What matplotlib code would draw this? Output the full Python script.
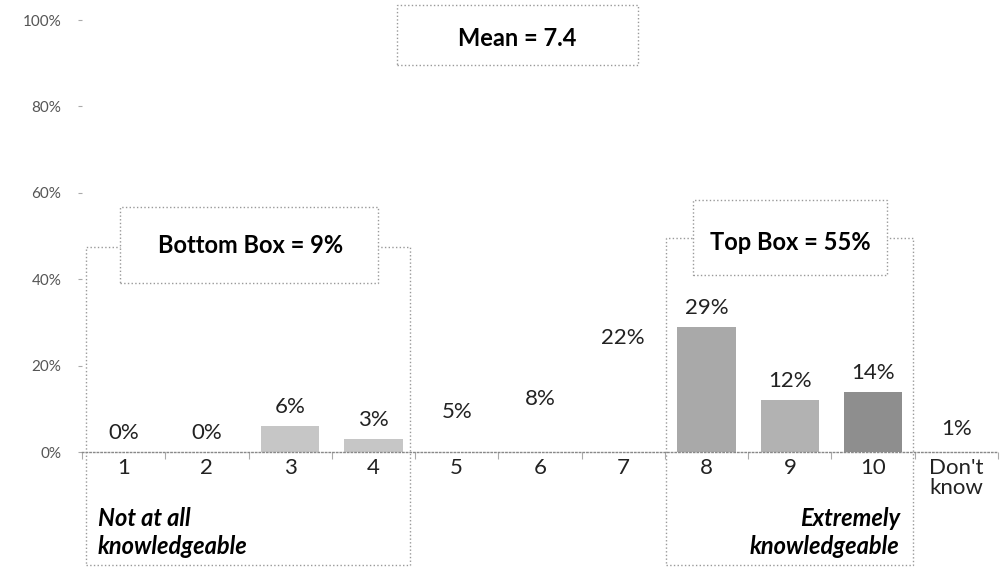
import matplotlib.pyplot as plt
from matplotlib.patches import Rectangle
import numpy as np

categories = ['1', '2', '3', '4', '5', '6', '7', '8', '9', '10', "Don't\nknow"]
values = [0, 0, 6, 3, 5, 8, 22, 29, 12, 14, 1]
bar_colors = ['white', 'white', '#c6c6c6', '#c6c6c6', 'white', 'white', 'white',
              '#a9a9a9', '#b2b2b2', '#8e8e8e', 'white']
mean_text = 'Mean = 7.4'
bottom_text = 'Bottom Box = 9%'
top_text = 'Top Box = 55%'

plt.rcParams['font.family'] = ['Lato', 'DejaVu Sans']

fig = plt.figure(figsize=(10.07, 5.69), dpi=100)
ax = fig.add_axes([82/1007, 117/569, 916/1007, 432/569])

x = np.arange(len(categories))
ax.bar(x, values, width=0.7, color=bar_colors, zorder=2)
for xi, v in zip(x, values):
    ax.annotate(f'{v}%', (xi, v), xytext=(0, 13.5), textcoords='offset points',
                ha='center', va='center', fontsize=16, color='#222222')

ax.set_xlim(-0.5, len(categories) - 0.5)
ax.set_ylim(0, 100)
ax.set_yticks(np.arange(0, 101, 20))
ax.set_yticklabels([f'{t}%' for t in range(0, 101, 20)], fontsize=11, color='#555555')
ax.tick_params(axis='y', length=3, color='#aaaaaa', pad=12)
ax.set_xticks(x)
ax.set_xticklabels(categories, fontsize=16, color='#222222')
ax.tick_params(axis='x', length=0, pad=4)
for t in ax.get_xticklabels():
    t.set_linespacing(1.0)
ax.set_xticks(np.arange(-0.5, len(categories), 1), minor=True)
ax.tick_params(axis='x', which='minor', length=5, color='#aaaaaa', width=0.8)

for s in ['left', 'right', 'top']:
    ax.spines[s].set_visible(False)
ax.spines['bottom'].set_color('#888888')
ax.spines['bottom'].set_linestyle(':')
ax.spines['bottom'].set_linewidth(1)

dot = dict(fill=False, edgecolor='#999999', linestyle=':', linewidth=1, clip_on=False, zorder=1)
# group frames
ax.add_patch(Rectangle((-0.45, -26.2), 3.89, 73.7, **dot))
ax.add_patch(Rectangle((6.51, -26.2), 2.97, 75.7, **dot))
# label boxes
lab = dict(facecolor='white', edgecolor='#999999', linestyle=':', linewidth=1, clip_on=False, zorder=3)
ax.add_patch(Rectangle((-0.04, 39.1), 3.09, 17.6, **lab))
ax.add_patch(Rectangle((6.84, 41.0), 2.33, 17.3, **lab))
ax.add_patch(Rectangle((3.28, 89.6), 2.9, 13.9, **lab))

ax.text(1.52, 47.9, bottom_text, ha='center', va='center', fontsize=17, fontweight='bold', zorder=4)
ax.text(8.0, 48.4, top_text, ha='center', va='center', fontsize=17, fontweight='bold', zorder=4)
ax.text(4.73, 95.8, mean_text, ha='center', va='center', fontsize=17, fontweight='bold', zorder=4)

ax.text(-0.31, -18.7, 'Not at all\nknowledgeable', ha='left', va='center', fontsize=17,
        fontweight='bold', fontstyle='italic', linespacing=1.25, multialignment='left', clip_on=False)
ax.text(9.32, -18.7, 'Extremely\nknowledgeable', ha='right', va='center', fontsize=17,
        fontweight='bold', fontstyle='italic', linespacing=1.25, multialignment='right', clip_on=False)

fig.savefig('out.png', dpi=100)
